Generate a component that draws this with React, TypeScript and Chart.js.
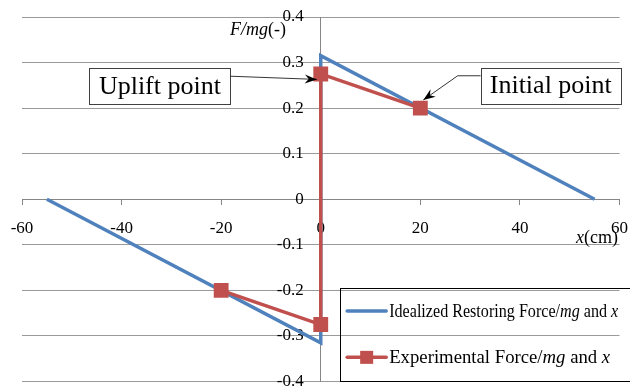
import { useEffect, useRef } from 'react';
import { Chart, registerables } from 'chart.js';

Chart.register(...registerables);

// ---- data ----
const idealX = [-55, 0, 0, 55];
const idealY = [0, -0.315, 0.315, 0];
const expX = [-20, 0, 0, 20];
const expY = [-0.2, -0.275, 0.275, 0.2];

const xMin = -60;
const xMax = 60;
const xStep = 20;
const yMin = -0.4;
const yMax = 0.4;
const yStep = 0.1;

const seriesNames = ['Idealized Restoring Force/mg and x', 'Experimental Force/mg and x'];
// rich text for legend: [text, italic]
const legendParts: [string, boolean][][] = [
  [['Idealized Restoring Force/', false], ['mg', true], [' and ', false], ['x', true]],
  [['Experimental Force/', false], ['mg', true], [' and ', false], ['x', true]],
];
const yTitleParts: [string, boolean][] = [['F/mg', true], ['(-)', false]];
const xTitleParts: [string, boolean][] = [['x', true], ['(cm)', false]];

// annotations: box in data coords, arrow path in data coords
const annotations = [
  {
    text: 'Uplift point',
    box: [-46.5, 0.289, -18.1, 0.209],
    path: [[-18.1, 0.27], [-0.8, 0.263]],
  },
  {
    text: 'Initial point',
    box: [32.1, 0.289, 60.3, 0.211],
    path: [[32.1, 0.271], [27.5, 0.271], [20.6, 0.218]],
  },
];

const BLUE = '#4F81BD';
const RED = '#C0504D';
const FONT = '"Liberation Serif"';

function richWidth(ctx: CanvasRenderingContext2D, parts: [string, boolean][], size: number) {
  let w = 0;
  for (const [t, it] of parts) {
    ctx.font = `${it ? 'italic ' : ''}${size}px ${FONT}`;
    w += ctx.measureText(t).width;
  }
  return w;
}

function drawRich(ctx: CanvasRenderingContext2D, parts: [string, boolean][], x: number, y: number, size: number, targetW?: number) {
  const w = richWidth(ctx, parts, size);
  const s = targetW ? targetW / w : 1;
  ctx.save();
  ctx.translate(x, y);
  ctx.scale(s, 1);
  let cx = 0;
  ctx.textBaseline = 'alphabetic';
  ctx.textAlign = 'left';
  for (const [t, it] of parts) {
    ctx.font = `${it ? 'italic ' : ''}${size}px ${FONT}`;
    ctx.fillText(t, cx, 0);
    cx += ctx.measureText(t).width;
  }
  ctx.restore();
  return w * s;
}

function arrowHead(ctx: CanvasRenderingContext2D, fx: number, fy: number, tx: number, ty: number) {
  const ang = Math.atan2(ty - fy, tx - fx);
  const L = 12, W = 4.5, N = 8;
  ctx.save();
  ctx.translate(tx, ty);
  ctx.rotate(ang);
  ctx.beginPath();
  ctx.moveTo(0, 0);
  ctx.lineTo(-L, -W);
  ctx.lineTo(-N, 0);
  ctx.lineTo(-L, W);
  ctx.closePath();
  ctx.fillStyle = '#000';
  ctx.fill();
  ctx.restore();
}

const overlay = {
  id: 'overlay',
  afterDraw(chart: any) {
    const ctx: CanvasRenderingContext2D = chart.ctx;
    const xs = chart.scales.x;
    const ys = chart.scales.y;
    const px = (v: number) => xs.getPixelForValue(v);
    const py = (v: number) => ys.getPixelForValue(v);
    ctx.save();
    ctx.fillStyle = '#000';

    // axis titles
    const yw = richWidth(ctx, yTitleParts, 18);
    drawRich(ctx, yTitleParts, px(-7) - yw, py(0.36), 18);
    const xw = richWidth(ctx, xTitleParts, 18);
    drawRich(ctx, xTitleParts, px(59.7) - xw, py(-0.097), 18);

    // annotations
    for (const a of annotations) {
      const [x1, y1, x2, y2] = a.box;
      const bx = px(x1), by = py(y1), bw = px(x2) - bx, bh = py(y2) - by;
      ctx.fillStyle = '#fff';
      ctx.fillRect(bx, by, bw, bh);
      ctx.strokeStyle = '#404040';
      ctx.lineWidth = 1;
      ctx.strokeRect(Math.round(bx) + 0.5, Math.round(by) + 0.5, Math.round(bw), Math.round(bh));
      ctx.fillStyle = '#000';
      ctx.font = `26px ${FONT}`;
      ctx.textAlign = 'center';
      ctx.textBaseline = 'middle';
      ctx.fillText(a.text, bx + bw / 2, by + bh / 2 + 1);
      // arrow
      ctx.strokeStyle = '#000';
      ctx.lineWidth = 0.8;
      ctx.beginPath();
      a.path.forEach(([vx, vy], i) => {
        if (i === 0) ctx.moveTo(px(vx), py(vy));
        else ctx.lineTo(px(vx), py(vy));
      });
      ctx.stroke();
      const n = a.path.length;
      arrowHead(ctx, px(a.path[n - 2][0]), py(a.path[n - 2][1]), px(a.path[n - 1][0]), py(a.path[n - 1][1]));
    }

    // legend
    const lx = px(3.9), ly = py(-0.194), lb = py(-0.398);
    ctx.strokeStyle = '#000';
    ctx.lineWidth = 1;
    ctx.strokeRect(Math.round(lx) + 0.5, Math.round(ly) + 0.5, chart.width - Math.round(lx) + 5, Math.round(lb - ly));
    const rowH = (lb - ly) / 2;
    const targets = [229, 221];
    chart.data.datasets.forEach((ds: any, i: number) => {
      const cy = ly + rowH * (i + 0.5);
      ctx.strokeStyle = ds.borderColor;
      ctx.lineWidth = 3.5;
      ctx.lineCap = 'round';
      ctx.beginPath();
      ctx.moveTo(lx + 7, cy);
      ctx.lineTo(lx + 46, cy);
      ctx.stroke();
      if (ds.pointRadius > 0) {
        ctx.fillStyle = ds.pointBackgroundColor;
        ctx.fillRect(lx + 26.5 - 6.5, cy - 6.5, 13, 13);
      }
      ctx.fillStyle = '#000';
      drawRich(ctx, legendParts[i], lx + 49, cy + 6, 18, targets[i]);
    });
    ctx.restore();
  },
};

export default function App() {
  const ref = useRef<HTMLCanvasElement | null>(null);
  useEffect(() => {
    document.body.style.margin = '0';
    const canvas = ref.current!;
    const fmt = (v: number) => {
      const r = Math.round(v * 10) / 10;
      return r === 0 ? '0' : String(r);
    };
    const chart = new Chart(canvas, {
      type: 'scatter',
      data: {
        datasets: [
          {
            label: seriesNames[0],
            data: idealX.map((x, i) => ({ x, y: idealY[i] })),
            showLine: true,
            borderColor: BLUE,
            backgroundColor: BLUE,
            borderWidth: 3.5,
            pointRadius: 0,
            pointHoverRadius: 0,
            order: 2,
          },
          {
            label: seriesNames[1],
            data: expX.map((x, i) => ({ x, y: expY[i] })),
            showLine: true,
            borderColor: RED,
            backgroundColor: RED,
            pointBackgroundColor: RED,
            pointBorderColor: RED,
            borderWidth: 3.5,
            pointStyle: 'rect',
            pointRadius: 10.5,
            pointBorderWidth: 0,
            order: 1,
          } as any,
        ],
      },
      options: {
        responsive: false,
        animation: false,
        layout: { padding: { left: 22, right: 7, top: 17, bottom: 6 } },
        plugins: { legend: { display: false }, tooltip: { enabled: false } },
        scales: {
          x: {
            type: 'linear',
            position: 'center',
            min: xMin,
            max: xMax,
            ticks: { stepSize: xStep, color: '#000', font: { family: FONT, size: 17 }, padding: 14, maxRotation: 0 },
            grid: { drawOnChartArea: false, drawTicks: true, tickLength: 5, color: '#868686' },
            border: { display: true, color: '#868686', width: 1 },
            afterFit: (s: any) => { s.height = 0; s.paddingLeft = 0; s.paddingRight = 0; },
          },
          y: {
            type: 'linear',
            position: 'center',
            min: yMin,
            max: yMax,
            ticks: { stepSize: yStep, color: '#000', font: { family: FONT, size: 17 }, padding: 17, callback: (v: any) => fmt(Number(v)) },
            grid: { drawTicks: false, color: '#9a9a9a', lineWidth: 1 },
            border: { display: true, color: '#868686', width: 1 },
            afterFit: (s: any) => { s.width = 0; s.paddingTop = 0; s.paddingBottom = 0; },
          },
        },
      },
      plugins: [overlay],
    });
    return () => chart.destroy();
  }, []);
  return (
    <div style={{ position: 'fixed', left: 0, top: 0 }}>
      <canvas ref={ref} width={630} height={392} style={{ display: 'block', width: 630, height: 392 }} />
    </div>
  );
}
